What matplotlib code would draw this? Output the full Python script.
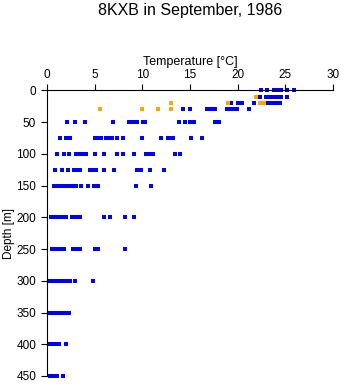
import matplotlib
matplotlib.use("Agg")
import matplotlib.pyplot as plt

plt.rcParams["font.family"] = ["Liberation Sans", "DejaVu Sans"]

# Temperature readings (deg C) at each standard depth (m)
depths = [0, 10, 20, 30, 50, 75, 100, 125, 150, 200, 250, 300, 350, 400, 450]

temp_0 = [22.5, 23.1, 23.8, 24.1, 24.4, 24.6, 25.2, 25.9]
temp_10 = [22.4, 23.0, 23.3, 23.6, 24.0, 24.3, 24.6, 25.2]
temp_20 = [19.35, 20.0, 20.3, 20.5, 21.7, 23.0, 23.3, 23.5, 23.9, 24.2, 24.5]
temp_30 = [14.3, 15.0, 16.8, 17.2, 17.6, 18.9, 19.2, 19.5, 19.9, 21.2]
temp_50 = [2.1, 2.95, 4.0, 6.9, 8.6, 9.0, 9.4, 10.1, 10.3, 13.8, 14.5, 15.0,
           15.4, 17.6, 18.1]
temp_75 = [1.37, 2.0, 2.4, 5.0, 5.3, 5.65, 6.2, 6.5, 6.8, 7.3, 8.0, 10.0,
           11.96, 12.7, 13.0, 13.25, 15.1, 16.3]
temp_100 = [1.0, 1.8, 2.3, 3.0, 3.4, 3.6, 4.1, 5.0, 6.0, 7.3, 7.96, 9.15,
            10.4, 10.8, 11.1, 13.4, 14.0]
temp_125 = [0.8, 1.5, 2.2, 2.85, 3.2, 3.45, 4.5, 4.8, 5.1, 6.0, 7.0, 9.4,
            9.9, 10.8, 12.3]
temp_150 = [0.74, 1.15, 1.45, 1.75, 2.1, 2.45, 2.75, 3.0, 3.5, 4.3, 4.95,
            5.35, 9.3, 10.9]
temp_200 = [0.4, 0.65, 0.9, 1.15, 1.4, 1.7, 2.0, 2.6, 3.0, 3.4, 6.0, 6.6,
            8.2, 9.1]
temp_250 = [0.45, 0.7, 1.0, 1.3, 1.55, 1.75, 2.7, 3.0, 3.4, 5.05, 5.35, 8.2]
temp_300 = [0.3, 0.55, 0.8, 1.05, 1.3, 1.75, 2.0, 2.4, 2.9, 4.85]
temp_350 = [0.3, 0.6, 0.9, 1.2, 1.5, 1.9, 2.3]
temp_400 = [0.3, 0.6, 0.9, 1.25, 1.95]
temp_450 = [0.3, 0.6, 1.0, 1.7]

temps = [temp_0, temp_10, temp_20, temp_30, temp_50, temp_75, temp_100,
         temp_125, temp_150, temp_200, temp_250, temp_300, temp_350,
         temp_400, temp_450]

# Flagged readings
flag_depths = [10, 20, 30]
flag_10 = [21.95]
flag_20 = [13.0, 19.0, 22.4, 22.8]
flag_30 = [5.5, 10.0, 11.6, 13.0]
flag_temps = [flag_10, flag_20, flag_30]

x_ticks = [0, 5, 10, 15, 20, 25, 30]
y_ticks = [0, 50, 100, 150, 200, 250, 300, 350, 400, 450]

fig = plt.figure(figsize=(3.41, 3.84), dpi=100)
ax = fig.add_axes([47.3 / 341, 1 - 376 / 384, (332.7 - 47.3) / 341,
                   (376 - 90.4) / 384])

marker_style = dict(linestyle="none", marker="s", markersize=2.2,
                    markeredgewidth=0, antialiased=False, clip_on=False)
for d, ts in zip(depths, temps):
    ax.plot(ts, [d] * len(ts), color="#0000ff", **marker_style)
for d, ts in zip(flag_depths, flag_temps):
    ax.plot(ts, [d] * len(ts), color="#ffa500", **marker_style)

ax.set_xlim(0, 30)
ax.set_ylim(450, 0)
ax.set_xticks(x_ticks)
ax.set_yticks(y_ticks)

ax.xaxis.tick_top()
ax.xaxis.set_label_position("top")
for side in ("right", "bottom"):
    ax.spines[side].set_visible(False)
for side in ("left", "top"):
    ax.spines[side].set_linewidth(0.8)
ax.tick_params(axis="both", direction="out", length=4, width=0.8,
               labelsize=8.5, colors="black")
ax.tick_params(axis="x", pad=3.0)
ax.tick_params(axis="y", pad=4.0)

ax.set_xlabel("Temperature [\u00b0C]", fontsize=9, labelpad=3)
ax.set_ylabel("Depth [m]", fontsize=8.5, labelpad=1)

fig.text(190 / 341, 1 - 10 / 384, "8KXB in September, 1986",
         ha="center", va="center", fontsize=11.5)

fig.savefig("out.png", dpi=100)
